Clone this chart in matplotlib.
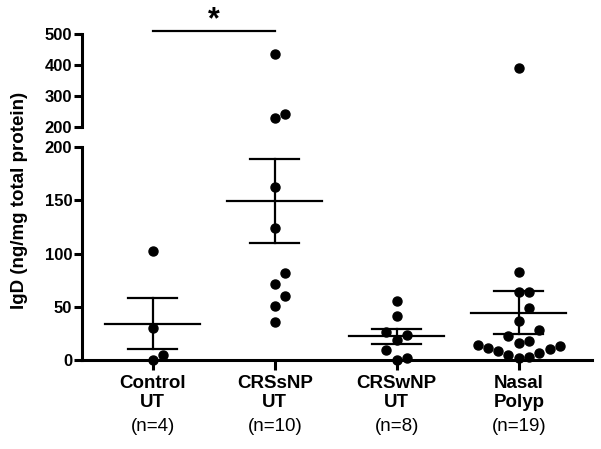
import numpy as np
import matplotlib
matplotlib.use('Agg')
import matplotlib.pyplot as plt

plt.rcParams['font.family'] = ['Liberation Sans', 'DejaVu Sans']

groups = ['Control\nUT', 'CRSsNP\nUT', 'CRSwNP\nUT', 'Nasal\nPolyp']
counts = ['(n=4)', '(n=10)', '(n=8)', '(n=19)']
control_ut = [102, 30, 5, 0]
crssnp_ut = [435, 242, 229, 162, 124, 82, 71, 60, 51, 36]
crswnp_ut = [55.7, 41.3, 23.5, 26, 18.8, 9.4, 0, 2]
nasal_polyp = [390, 82.6, 63.8, 63.8, 48.8, 36.6, 28.2, 22.5, 18, 16, 14,
               13.5, 11.3, 10.3, 8.5, 6.5, 4.7, 3.1, 2.2]
values = [control_ut, crssnp_ut, crswnp_ut, nasal_polyp]
low_ticks = [0, 50, 100, 150, 200]
high_ticks = [200, 300, 400, 500]
brk = 200

fig = plt.figure(figsize=(6.01, 4.49), dpi=100)
ax_b = fig.add_axes([82 / 601, 1 - 360 / 449, 510 / 601, 213 / 449])
ax_t = fig.add_axes([82 / 601, 1 - 127 / 449, 510 / 601, 93 / 449])

xlim = (-0.58, 3.6)
for ax in (ax_b, ax_t):
    ax.set_xlim(*xlim)
    ax.spines['top'].set_visible(False)
    ax.spines['right'].set_visible(False)
    ax.spines['left'].set_linewidth(2.2)
    ax.spines['bottom'].set_linewidth(2.2)
    ax.tick_params(axis='y', direction='out', length=6, width=2.2, pad=1,
                   labelsize=12)
ax_b.set_ylim(0, 200)
ax_t.set_ylim(200, 500)
ax_b.set_yticks(low_ticks)
ax_b.set_yticklabels([str(t) for t in low_ticks], fontweight='bold', fontsize=12)
ax_t.set_yticks(high_ticks)
ax_t.set_yticklabels([str(t) for t in high_ticks], fontweight='bold', fontsize=12)
ax_t.spines['bottom'].set_visible(False)
ax_t.set_xticks([])
ax_t.patch.set_alpha(0)

# break marks: the 200 tick crosses the spine
for ax in (ax_b, ax_t):
    ax.set_yticks([brk], minor=True)
    ax.tick_params(axis='y', which='minor', direction='inout', length=15, width=2.2)

ax_b.set_xticks(range(len(groups)))
ax_b.set_xticklabels(groups, fontweight='bold', fontsize=13.5, linespacing=1.1)
ax_b.tick_params(axis='x', direction='out', length=7, width=2.2, pad=4)
for i, c in enumerate(counts):
    ax_b.annotate(c, xy=(i, 0), xycoords=('data', 'axes fraction'),
                  xytext=(0, -42), textcoords='offset points',
                  ha='center', va='top', fontsize=13.5)

fig.canvas.draw()


def swarm(ax, x0, vals, step=10.3, dy=14.0):
    tr = ax.transData
    ppu = tr.transform((1, 0))[0] - tr.transform((0, 0))[0]
    placed = []
    offs = np.zeros(len(vals))
    ks = [0]
    for k in range(1, 10):
        ks += [k, -k]
    for i in np.argsort(vals, kind='stable'):
        yp = tr.transform((x0, vals[i]))[1]
        for k in ks:
            xo = k * step
            if all(abs(xo - px) >= step * 0.99 or abs(yp - py) >= dy
                   for px, py in placed):
                break
        placed.append((xo, yp))
        offs[i] = xo / ppu
    return offs


for i, vals in enumerate(values):
    vals = np.asarray(vals, dtype=float)
    lo = vals[vals <= brk]
    hi = vals[vals > brk]
    if len(lo):
        ax_b.plot(i + swarm(ax_b, i, lo), lo, 'o', color='black', ms=6.5,
                  clip_on=False, zorder=3)
    if len(hi):
        ax_t.plot(i + swarm(ax_t, i, hi), hi, 'o', color='black', ms=6.5,
                  clip_on=False, zorder=3)
    m = vals.mean()
    sem = vals.std(ddof=1) / np.sqrt(len(vals))
    ax_b.plot([i - 0.39, i + 0.39], [m, m], color='black', lw=1.6, zorder=4)
    ax_b.plot([i, i], [m - sem, m + sem], color='black', lw=1.6, zorder=4)
    for v in (m - sem, m + sem):
        ax_b.plot([i - 0.2, i + 0.2], [v, v], color='black', lw=1.6, zorder=4)

# significance bar
ax_t.plot([0, 1], [510, 510], color='black', lw=1.6, clip_on=False)
ax_t.annotate('*', xy=(0.5, 510), xytext=(0, -3), textcoords='offset points',
              ha='center', va='bottom', fontsize=22, fontweight='bold',
              annotation_clip=False)

fig.text(20 / 601, 1 - 200 / 449, 'IgD (ng/mg total protein)', rotation=90,
         ha='center', va='center', fontsize=13.5, fontweight='bold')

fig.savefig('out.png', dpi=100)
